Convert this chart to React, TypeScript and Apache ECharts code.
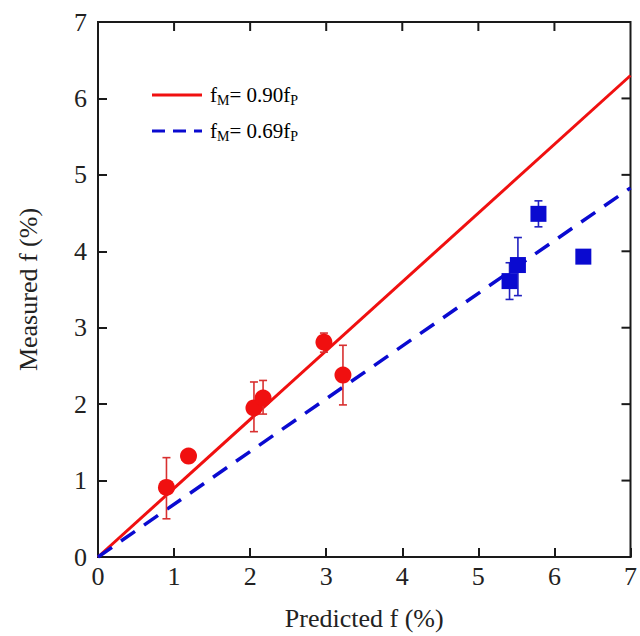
import React, { useEffect, useRef } from "react";
import * as echarts from "echarts";

// Red circles: [predicted, measured]
const redPoints: number[][] = [
  [0.9, 0.91],
  [1.19, 1.32],
  [2.05, 1.95],
  [2.17, 2.08],
  [2.97, 2.81],
  [3.22, 2.38],
];
// Red error bars: [x, low, high]
const redErrors: number[][] = [
  [0.9, 0.5, 1.3],
  [2.05, 1.64, 2.29],
  [2.17, 1.87, 2.31],
  [2.97, 2.68, 2.93],
  [3.22, 1.99, 2.77],
];
// Blue squares
const bluePoints: number[][] = [
  [5.41, 3.61],
  [5.52, 3.82],
  [5.79, 4.49],
  [6.38, 3.93],
];
const blueErrors: number[][] = [
  [5.41, 3.37, 3.85],
  [5.52, 3.42, 4.18],
  [5.79, 4.32, 4.66],
];
const redSlope = 0.9;
const blueSlope = 0.69;
const axisMin = 0;
const axisMax = 7;
// inner tick values mirrored on top and right frame edges
const frameTicks: number[] = [1, 2, 3, 4, 5, 6];

const RED = "#f01010";
const BLUE = "#0a0ad0";
const AXIS = "#1a1a1a";
const FONT = "Liberation Serif";

function errRender(color: string) {
  return (params: any, api: any) => {
    const x = api.value(0);
    const lo = api.coord([x, api.value(1)]);
    const hi = api.coord([x, api.value(2)]);
    const cap = 4;
    const style = { stroke: color, lineWidth: 1.6 };
    return {
      type: "group",
      children: [
        { type: "line", shape: { x1: lo[0], y1: lo[1], x2: hi[0], y2: hi[1] }, style },
        { type: "line", shape: { x1: lo[0] - cap, y1: lo[1], x2: lo[0] + cap, y2: lo[1] }, style },
        { type: "line", shape: { x1: hi[0] - cap, y1: hi[1], x2: hi[0] + cap, y2: hi[1] }, style },
      ],
    };
  };
}

function frameTickRender(params: any, api: any) {
  const v = api.value(0);
  const top = api.coord([v, axisMax]);
  const right = api.coord([axisMax, v]);
  const len = 9;
  const style = { stroke: AXIS, lineWidth: 2 };
  return {
    type: "group",
    children: [
      { type: "line", shape: { x1: top[0], y1: top[1], x2: top[0], y2: top[1] + len }, style },
      { type: "line", shape: { x1: right[0], y1: right[1], x2: right[0] - len, y2: right[1] }, style },
    ],
  };
}

export default function App() {
  const ref = useRef<HTMLDivElement>(null);
  useEffect(() => {
    if (!ref.current) return;
    const chart = echarts.init(ref.current, undefined, { renderer: "svg" });
    const mkLine = () => ({ show: true, onZero: false, lineStyle: { color: AXIS, width: 2 } });
    const mkTick = () => ({ show: true, inside: true, length: 9, lineStyle: { color: AXIS, width: 2 } });
    const legendRich = (color: string) => ({
      a: { fontFamily: FONT, fontSize: 21, color },
      s: { fontFamily: FONT, fontSize: 14, color, verticalAlign: "bottom", padding: [10, 0, 0, 0] },
    });
    chart.setOption({
      animation: false,
      grid: { left: 98, right: 6, top: 22, bottom: 78, show: true, borderColor: AXIS, borderWidth: 2 },
      xAxis: {
        type: "value", min: axisMin, max: axisMax, interval: 1,
        axisLine: mkLine(), axisTick: mkTick(), splitLine: { show: false },
        axisLabel: { fontFamily: FONT, fontSize: 26, color: "#222", margin: 6 },
        name: "Predicted f (%)", nameLocation: "middle", nameGap: 48,
        nameTextStyle: { fontFamily: FONT, fontSize: 26, color: "#222" },
      },
      yAxis: {
        type: "value", min: axisMin, max: axisMax, interval: 1,
        axisLine: mkLine(), axisTick: mkTick(), splitLine: { show: false },
        axisLabel: { fontFamily: FONT, fontSize: 26, color: "#222", margin: 11 },
        name: "Measured f (%)", nameLocation: "middle", nameGap: 57,
        nameTextStyle: { fontFamily: FONT, fontSize: 26, color: "#222" },
      },
      series: [
        {
          type: "line", data: [[axisMin, 0], [axisMax, redSlope * axisMax]], symbol: "none",
          lineStyle: { color: RED, width: 3 }, z: 3,
        },
        {
          type: "line", data: [[axisMin, 0], [axisMax, blueSlope * axisMax]], symbol: "none",
          lineStyle: { color: BLUE, width: 3.5, type: [17, 11] }, z: 3,
        },
        { type: "custom", data: frameTicks.map((v) => [v, v]), renderItem: frameTickRender, clip: false, z: 2 },
        { type: "custom", data: redErrors, renderItem: errRender("#d83030"), z: 4 },
        { type: "custom", data: blueErrors, renderItem: errRender("#2020c0"), z: 4 },
        {
          type: "scatter", data: redPoints, symbol: "circle", symbolSize: 17,
          itemStyle: { color: RED, opacity: 1 }, z: 5,
        },
        {
          type: "scatter", data: bluePoints, symbol: "rect", symbolSize: 16,
          itemStyle: { color: BLUE, opacity: 1 }, z: 5,
        },
      ],
      graphic: [
        { type: "line", shape: { x1: 152, y1: 95, x2: 202, y2: 95 }, style: { stroke: RED, lineWidth: 3 } },
        {
          type: "line", shape: { x1: 152, y1: 131, x2: 202, y2: 131 },
          style: { stroke: BLUE, lineWidth: 3, lineDash: [13, 8] },
        },
        {
          type: "text", x: 210, y: 95,
          style: {
            text: "{a|f}{s|M}{a|= 0.90f}{s|P}", rich: legendRich("#e02020"),
            verticalAlign: "middle", align: "left",
          },
        },
        {
          type: "text", x: 210, y: 131,
          style: {
            text: "{a|f}{s|M}{a|= 0.69f}{s|P}", rich: legendRich("#2020c0"),
            verticalAlign: "middle", align: "left",
          },
        },
      ],
    });
    return () => chart.dispose();
  }, []);
  return (
    <div
      ref={ref}
      style={{ position: "fixed", left: 0, top: 0, width: 640, height: 636, background: "#fff" }}
    />
  );
}
